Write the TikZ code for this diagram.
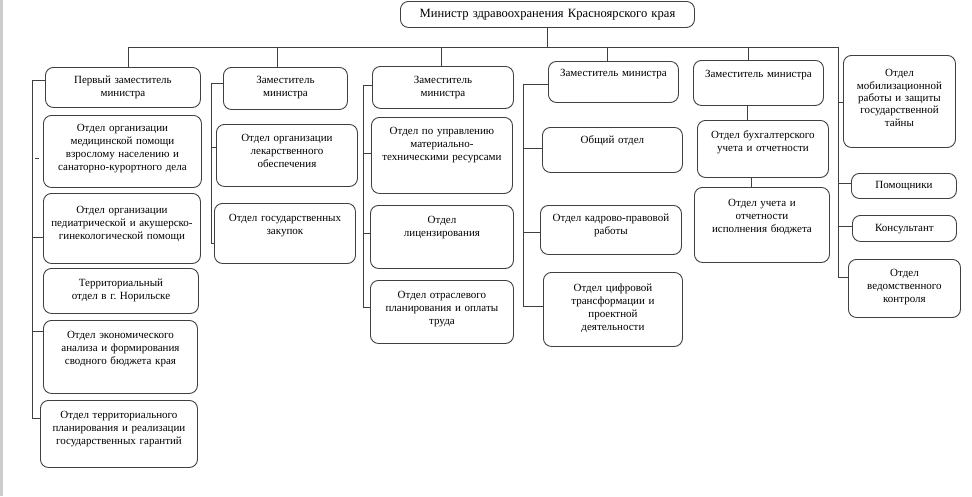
\documentclass[tikz,border=0pt]{standalone}
\usepackage{fontspec}
\setmainfont{Liberation Serif}
\frenchspacing

\tikzset{
  unitbox/.style={draw=black!75, line width=0.9pt, rounded corners=8pt, anchor=north west,
    inner sep=0pt, align=center, font=\fontsize{11}{13}\selectfont},
  link/.style={draw=black!75, line width=0.8pt}
}

\begin{document}
\begin{tikzpicture}[x=1pt,y=-1pt]

\useasboundingbox (0,0) rectangle (972,496);
\fill[black!20] (0,0) rectangle (2.5,496);

\node[unitbox, text width=294pt, text height=16pt, text depth=10pt, font=\fontsize{12.6}{15}\selectfont] (minister) at (400,1) {Министр здравоохранения Красноярского края};

\node[unitbox, text width=155pt, text height=16.5pt, text depth=23.5pt] (dep1) at (45,67) {Первый заместитель\\министра};
\node[unitbox, text width=124pt, text height=16.5pt, text depth=25.5pt] (dep2) at (223,67) {Заместитель\\министра};
\node[unitbox, text width=141pt, text height=17.5pt, text depth=24.5pt] (dep3) at (372,66) {Заместитель\\министра};
\node[unitbox, text width=130pt, text height=15.5pt, text depth=25.5pt] (dep4) at (548,61) {Заместитель министра};
\node[unitbox, text width=130pt, text height=17.5pt, text depth=27.5pt] (dep5) at (693,60) {Заместитель министра};

\node[unitbox, text width=158pt, text height=16.5pt, text depth=55.5pt] (u11) at (43,115) {Отдел организации\\медицинской помощи\\взрослому населению и\\санаторно-курортного дела};
\node[unitbox, text width=157pt, text height=20.5pt, text depth=49.5pt] (u12) at (43,193) {Отдел организации\\педиатрической и акушерско-\\гинекологической помощи};
\node[unitbox, text width=155pt, text height=18.5pt, text depth=26.5pt] (u13) at (43,268) {Территориальный\\отдел в г. Норильске};
\node[unitbox, text width=154pt, text height=18.5pt, text depth=54.5pt] (u14) at (43,320) {Отдел экономического\\анализа и формирования\\сводного бюджета края};
\node[unitbox, text width=157pt, text height=18.5pt, text depth=48.5pt] (u15) at (40,400) {Отдел территориального\\планирования и реализации\\государственных гарантий};

\node[unitbox, text width=141pt, text height=17.5pt, text depth=44.5pt] (u21) at (216,124) {Отдел организации\\лекарственного\\обеспечения};
\node[unitbox, text width=141pt, text height=18.5pt, text depth=41.5pt] (u22) at (214,203) {Отдел государственных\\закупок};

\node[unitbox, text width=141pt, text height=17.5pt, text depth=58.5pt] (u31) at (371,117) {Отдел по управлению\\материально-\\техническими ресурсами};
\node[unitbox, text width=143pt, text height=18.5pt, text depth=44.5pt] (u32) at (370,205) {Отдел\\лицензирования};
\node[unitbox, text width=143pt, text height=18.5pt, text depth=44.5pt] (u33) at (370,280) {Отдел отраслевого\\планирования и оплаты\\труда};

\node[unitbox, text width=140pt, text height=16.5pt, text depth=28.5pt] (u41) at (542,127) {Общий отдел};
\node[unitbox, text width=141pt, text height=16.5pt, text depth=32.5pt] (u42) at (540,205) {Отдел кадрово-правовой\\работы};
\node[unitbox, text width=139pt, text height=19.5pt, text depth=54.5pt] (u43) at (543,272) {Отдел цифровой\\трансформации и\\проектной\\деятельности};

\node[unitbox, text width=131pt, text height=18.5pt, text depth=38.5pt] (u51) at (697,120) {Отдел бухгалтерского\\учета и отчетности};
\node[unitbox, text width=135pt, text height=19.5pt, text depth=55.5pt] (u52) at (694,187) {Отдел учета и\\отчетности\\исполнения бюджета};

\node[unitbox, text width=112pt, text height=21.5pt, text depth=70.5pt, font=\fontsize{11}{12.3}\selectfont] (r1) at (843,55) {Отдел\\мобилизационной\\работы и защиты\\государственной\\тайны};
\node[unitbox, text width=105pt, text height=15.5pt, text depth=9.5pt] (r2) at (851,173) {Помощники};
\node[unitbox, text width=104pt, text height=16.5pt, text depth=9.5pt] (r3) at (852,215) {Консультант};
\node[unitbox, text width=112pt, text height=17.5pt, text depth=40.5pt] (r4) at (848,259) {Отдел\\ведомственного\\контроля};

% bus under the minister
\coordinate (d1) at (128,47);
\coordinate (d2) at (277,47);
\coordinate (d3) at (441,47);
\coordinate (d4) at (607,47);
\coordinate (d5) at (748,47);
\coordinate (d6) at (838,47);
\coordinate (d6b) at (838,277);

\draw[link] (minister.south) -- (minister.south |- d1);
\draw[link] (d1) -- (d6) -- (d6b) -- (d6b -| r4.west);
\draw[link] (d1) -- (d1 |- dep1.north);
\draw[link] (d2) -- (d2 |- dep2.north);
\draw[link] (d3) -- (d3 |- dep3.north);
\draw[link] (d4) -- (d4 |- dep4.north);
\draw[link] (d5) -- (d5 |- dep5.north);

% first deputy
\coordinate (v1a) at (32,80);
\coordinate (v1b) at (32,418);
\coordinate (t12) at (32,237);
\coordinate (t14) at (32,331);
\draw[link] (v1a -| dep1.west) -- (v1a) -- (v1b) -- (v1b -| u15.west);
\draw[link] (t12) -- (t12 -| u12.west);
\draw[link] (t14) -- (t14 -| u14.west);
\draw[link] (35,158) -- (39,158);

% second deputy
\coordinate (v2a) at (211,83);
\coordinate (v2b) at (211,243);
\coordinate (t21) at (211,147);
\draw[link] (v2a -| dep2.west) -- (v2a) -- (v2b) -- (v2b -| u22.west);
\draw[link] (t21) -- (t21 -| u21.west);

% third deputy
\coordinate (v3a) at (363,85);
\coordinate (v3b) at (363,307);
\coordinate (t31) at (363,153);
\coordinate (t32) at (363,233);
\draw[link] (v3a -| dep3.west) -- (v3a) -- (v3b) -- (v3b -| u33.west);
\draw[link] (t31) -- (t31 -| u31.west);
\draw[link] (t32) -- (t32 -| u32.west);

% fourth deputy
\coordinate (v4a) at (523,84);
\coordinate (v4b) at (523,306);
\coordinate (t41) at (523,148);
\coordinate (t42) at (523,232);
\draw[link] (v4a -| dep4.west) -- (v4a) -- (v4b) -- (v4b -| u43.west);
\draw[link] (t41) -- (t41 -| u41.west);
\draw[link] (t42) -- (t42 -| u42.west);

% fifth deputy
\coordinate (k1) at (747,0);
\coordinate (k2) at (751,0);
\draw[link] (dep5.south -| k1) -- (u51.north -| k1);
\draw[link] (u51.south -| k2) -- (u52.north -| k2);

% right column
\coordinate (t61) at (838,102);
\coordinate (t62) at (838,183);
\coordinate (t63) at (838,226);
\draw[link] (t61) -- (t61 -| r1.west);
\draw[link] (t62) -- (t62 -| r2.west);
\draw[link] (t63) -- (t63 -| r3.west);

\end{tikzpicture}
\end{document}
